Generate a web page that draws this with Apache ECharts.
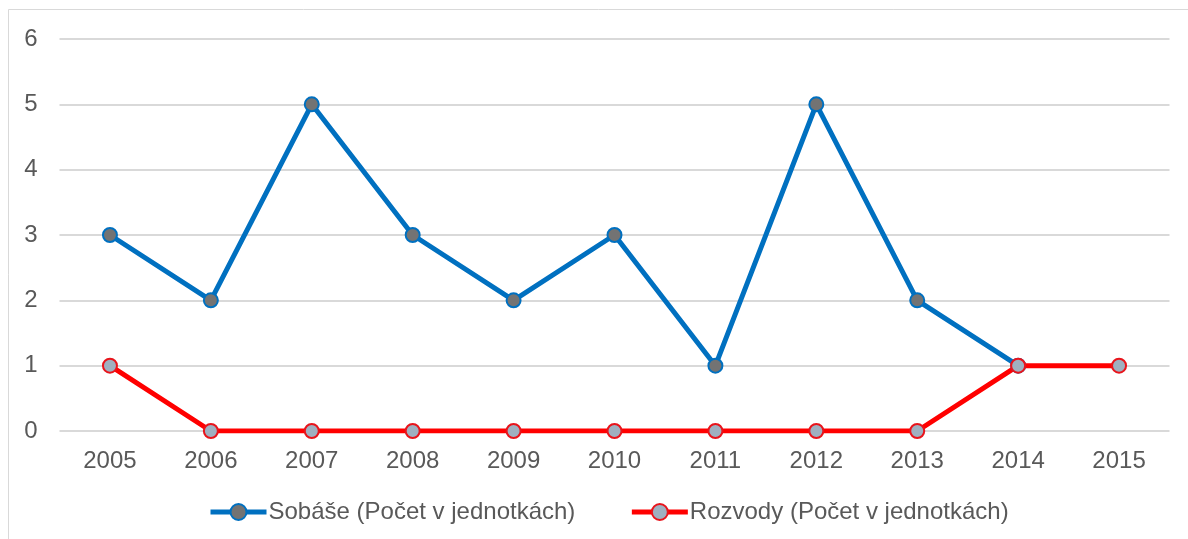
<!DOCTYPE html>
<html><head><meta charset="utf-8">
<script src="https://cdn.jsdelivr.net/npm/echarts@6/dist/echarts.min.js"></script>
<style>html,body{margin:0;padding:0;background:#fff}#c{width:1188px;height:539px}</style>
</head><body><div id="c"></div>
<script>
const categories = ['2005','2006','2007','2008','2009','2010','2011','2012','2013','2014','2015'];
const sobase = [3,2,5,3,2,3,1,5,2,1,null];
const rozvody = [1,0,0,0,0,0,0,0,0,1,1];
const yTicks = {min:0, max:6, interval:1};

const FONT = 'Liberation Sans, Arial';
const chart = echarts.init(document.getElementById('c'));
chart.setOption({
  animation:false,
  backgroundColor:'#fff',
  graphic:[{type:'rect', shape:{x:8.5,y:9.5,width:1200,height:600}, style:{fill:'none',stroke:'#d9d9d9',lineWidth:1}, silent:true}],
  grid:{left:59.5, right:18.5, top:39, bottom:108},
  xAxis:{type:'category', data:categories, boundaryGap:true,
    axisLine:{show:false}, axisTick:{show:false},
    axisLabel:{color:'#595959', fontSize:24, fontFamily:FONT, margin:18}},
  yAxis:{type:'value', min:yTicks.min, max:yTicks.max, interval:yTicks.interval,
    axisLine:{show:false}, axisTick:{show:false},
    splitLine:{lineStyle:{color:'#d9d9d9', width:2}},
    axisLabel:{color:'#595959', fontSize:24, fontFamily:FONT, margin:22}},
  legend:{top:500, left:208, padding:0, itemWidth:56, itemHeight:20, itemGap:54,
    lineStyle:{width:5},
    textStyle:{color:'#595959', fontSize:24, fontFamily:FONT, padding:[0,0,0,-3]},
    data:['Sobáše (Počet v jednotkách)','Rozvody (Počet v jednotkách)']},
  series:[
    {name:'Sobáše (Počet v jednotkách)', type:'line', data:sobase, symbol:'circle', symbolSize:14,
     lineStyle:{color:'#0070c0', width:5}, itemStyle:{color:'#737373', borderColor:'#0070c0', borderWidth:2}},
    {name:'Rozvody (Počet v jednotkách)', type:'line', data:rozvody, symbol:'circle', symbolSize:14,
     lineStyle:{color:'#ff0000', width:5}, itemStyle:{color:'#9fb0c0', borderColor:'#e8141b', borderWidth:2}}
  ]
});
</script></body></html>
